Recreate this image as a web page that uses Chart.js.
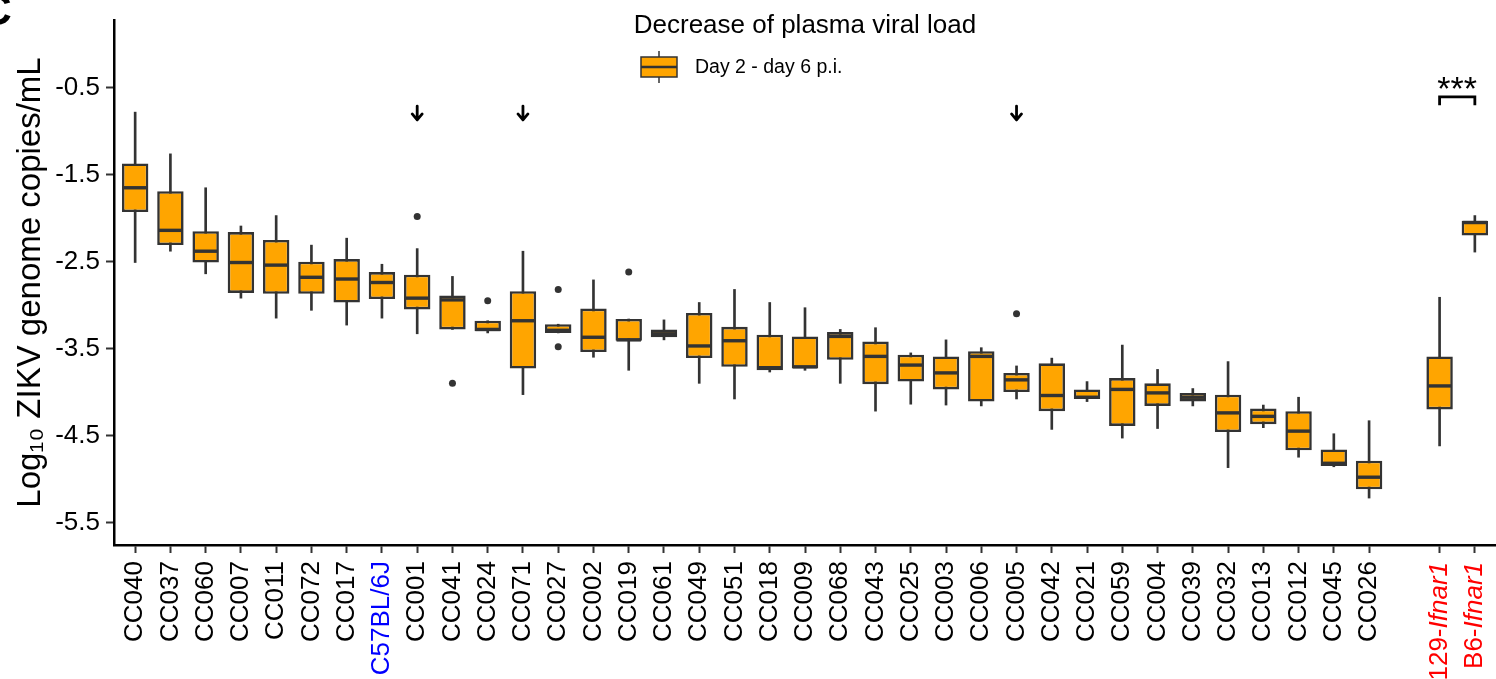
<!DOCTYPE html>
<html>
<head>
<meta charset="utf-8">
<script src="https://cdn.jsdelivr.net/npm/chart.js@4.4.1/dist/chart.umd.min.js"></script>
<style>
  html, body { margin: 0; padding: 0; background: #fff; overflow: hidden; }
  #wrap { width: 1496px; height: 679px; overflow: hidden; }
</style>
</head>
<body>
<div id="wrap"><canvas id="boxChart" width="1500" height="679"></canvas></div>
<script>
// --- Data (log10 ZIKV genome copies/mL, day 2 - day 6 p.i.) ---
const strains = ["CC040", "CC037", "CC060", "CC007", "CC011", "CC072", "CC017", "C57BL/6J", "CC001", "CC041",
  "CC024", "CC071", "CC027", "CC002", "CC019", "CC061", "CC049", "CC051", "CC018", "CC009",
  "CC068", "CC043", "CC025", "CC003", "CC006", "CC005", "CC042", "CC021", "CC059", "CC004",
  "CC039", "CC032", "CC013", "CC012", "CC045", "CC026", "129-Ifnar1", "B6-Ifnar1"];

const wMax = [-0.78, -1.26, -1.65, -2.09, -1.97, -2.31, -2.23, -2.53, -2.35, -2.67,
  -3.18, -2.38, -3.22, -2.71, -3.16, -3.17, -2.97, -2.82, -2.97, -3.03,
  -3.28, -3.26, -3.55, -3.40, -3.49, -3.70, -3.61, -3.88, -3.46, -3.74,
  -3.96, -3.65, -4.15, -4.06, -4.48, -4.33, -2.91, -1.97];
const q3 = [-1.37, -1.69, -2.15, -2.16, -2.25, -2.50, -2.47, -2.62, -2.65, -2.89,
  -3.18, -2.84, -3.22, -3.04, -3.16, -3.28, -3.09, -3.25, -3.34, -3.36,
  -3.31, -3.42, -3.57, -3.59, -3.53, -3.78, -3.67, -3.97, -3.84, -3.90,
  -4.01, -4.03, -4.19, -4.22, -4.66, -4.79, -3.59, -2.03];
const median = [-1.65, -2.14, -2.38, -2.51, -2.54, -2.68, -2.70, -2.74, -2.92, -2.94,
  -3.28, -3.18, -3.29, -3.37, -3.40, -3.33, -3.47, -3.41, -3.72, -3.71,
  -3.36, -3.59, -3.69, -3.78, -3.59, -3.86, -4.04, -4.06, -3.97, -4.01,
  -4.06, -4.24, -4.28, -4.45, -4.82, -4.98, -3.93, -2.05];
const q1 = [-1.93, -2.31, -2.51, -2.86, -2.87, -2.87, -2.97, -2.93, -3.05, -3.28,
  -3.30, -3.73, -3.32, -3.54, -3.41, -3.37, -3.61, -3.71, -3.75, -3.73,
  -3.63, -3.91, -3.88, -3.97, -4.11, -4.00, -4.22, -4.08, -4.39, -4.16,
  -4.11, -4.46, -4.37, -4.67, -4.85, -5.12, -4.20, -2.20];
const wMin = [-2.51, -2.38, -2.64, -2.92, -3.15, -3.06, -3.23, -3.15, -3.33, -3.28,
  -3.32, -4.03, -3.32, -3.60, -3.75, -3.40, -3.90, -4.08, -3.77, -3.75,
  -3.90, -4.22, -4.14, -4.15, -4.16, -4.08, -4.43, -4.11, -4.53, -4.42,
  -4.16, -4.87, -4.41, -4.75, -4.86, -5.22, -4.62, -2.39];

const outlierStrains = ["CC001", "CC041", "CC024", "CC027", "CC027", "CC019", "CC005"];
const outlierValues = [-1.98, -3.90, -2.95, -2.82, -3.48, -2.62, -3.10];

const yTicks = [-5.5, -4.5, -3.5, -2.5, -1.5, -0.5];
const arrowStrains = ["CC001", "CC071", "CC005"];
const sigPair = ["129-Ifnar1", "B6-Ifnar1"];
const sigLabel = "***";

// x slot of each strain: the two Ifnar1 controls sit after an empty slot
const xPos = strains.map((s, i) => (s.endsWith("Ifnar1") ? i + 1 : i));
const posOf = (name) => xPos[strains.indexOf(name)];

const FONT = "'Liberation Sans', Arial, sans-serif";
const ORANGE = "#FFA500";
const DARK = "#333333";

const labelColor = (name) =>
  name === "C57BL/6J" ? "#0000FF" : name.endsWith("Ifnar1") ? "#FF0000" : "#000000";

// --- Annotations: medians, arrows, significance, title, legend ---
const boxExtras = {
  id: "boxExtras",
  afterDatasetsDraw(chart) {
    const { ctx, scales } = chart;
    const y = scales.y;
    const meta = chart.getDatasetMeta(1);
    ctx.save();
    ctx.strokeStyle = DARK;
    ctx.lineWidth = 3.4;
    meta.data.forEach((bar, i) => {
      const { x, width } = bar.getProps(["x", "width"], true);
      const py = y.getPixelForValue(median[i]);
      ctx.beginPath();
      ctx.moveTo(x - width / 2 + 1, py);
      ctx.lineTo(x + width / 2 - 1, py);
      ctx.stroke();
    });
    ctx.restore();
  },
  afterDraw(chart) {
    const { ctx, scales, chartArea } = chart;
    const x = scales.x;
    const y = scales.y;
    ctx.save();

    // arrows above selected strains
    ctx.strokeStyle = "#000";
    ctx.lineWidth = 2.8;
    ctx.lineCap = "round";
    ctx.lineJoin = "round";
    arrowStrains.forEach((s) => {
      const px = x.getPixelForValue(posOf(s));
      const top = y.getPixelForValue(-0.71);
      const tip = y.getPixelForValue(-0.87);
      ctx.beginPath();
      ctx.moveTo(px, top);
      ctx.lineTo(px, tip);
      ctx.moveTo(px - 5, tip - 6);
      ctx.lineTo(px, tip);
      ctx.lineTo(px + 5, tip - 6);
      ctx.stroke();
    });

    // significance bracket
    const bx1 = x.getPixelForValue(posOf(sigPair[0]));
    const bx2 = x.getPixelForValue(posOf(sigPair[1]));
    const by = y.getPixelForValue(-0.605);
    const legY = y.getPixelForValue(-0.70);
    ctx.lineCap = "butt";
    ctx.lineJoin = "miter";
    ctx.beginPath();
    ctx.moveTo(bx1, legY);
    ctx.lineTo(bx1, by);
    ctx.lineTo(bx2, by);
    ctx.lineTo(bx2, legY);
    ctx.stroke();
    ctx.fillStyle = "#000";
    ctx.font = "34px " + FONT;
    ctx.textAlign = "center";
    ctx.textBaseline = "alphabetic";
    ctx.fillText(sigLabel, (bx1 + bx2) / 2, by + 3);

    // title
    ctx.font = "26px " + FONT;
    ctx.fillText("Decrease of plasma viral load", (chartArea.left + chartArea.right) / 2, 33);

    // legend glyph + text
    const lx = 641, lw = 36, ltop = 57, lbot = 77;
    ctx.strokeStyle = DARK;
    ctx.lineWidth = 1.5;
    ctx.beginPath();
    ctx.moveTo(lx + lw / 2, 51);
    ctx.lineTo(lx + lw / 2, 83);
    ctx.stroke();
    ctx.fillStyle = ORANGE;
    ctx.fillRect(lx, ltop, lw, lbot - ltop);
    ctx.lineWidth = 1.5;
    ctx.strokeRect(lx, ltop, lw, lbot - ltop);
    ctx.lineWidth = 2.5;
    ctx.beginPath();
    ctx.moveTo(lx, (ltop + lbot) / 2);
    ctx.lineTo(lx + lw, (ltop + lbot) / 2);
    ctx.stroke();
    ctx.fillStyle = "#000";
    ctx.font = "19.5px " + FONT;
    ctx.textAlign = "left";
    ctx.textBaseline = "middle";
    ctx.fillText("Day 2 - day 6 p.i.", 695, 68);

    // Ifnar1 tick labels: strain prefix upright, gene name italic
    const labelTop = x.top + 8 + 9;
    strains.forEach((s, i) => {
      if (!s.endsWith("Ifnar1")) return;
      const px = x.getPixelForValue(xPos[i]);
      const gene = "Ifnar1";
      const prefix = s.slice(0, s.length - gene.length);
      ctx.save();
      ctx.translate(px, labelTop);
      ctx.rotate(-Math.PI / 2);
      ctx.fillStyle = labelColor(s);
      ctx.textAlign = "right";
      ctx.textBaseline = "middle";
      ctx.font = "italic 26px " + FONT;
      const gw = ctx.measureText(gene).width;
      ctx.fillText(gene, 0, 0);
      ctx.font = "26px " + FONT;
      ctx.fillText(prefix, -gw, 0);
      ctx.restore();
    });

    // panel letter (cut off at the corner)
    ctx.font = "bold 44px " + FONT;
    ctx.textAlign = "left";
    ctx.textBaseline = "alphabetic";
    ctx.fillText("C", -20, 25);
    ctx.restore();
  },
};

// --- Build chart ---
const ctx = document.getElementById("boxChart").getContext("2d");
Chart.defaults.font.family = FONT;

new Chart(ctx, {
  type: "bar",
  data: {
    datasets: [
      {
        type: "scatter",
        label: "outliers",
        data: outlierStrains.map((s, i) => ({ x: posOf(s), y: outlierValues[i] })),
        pointRadius: 3.5,
        pointBackgroundColor: DARK,
        pointBorderWidth: 0,
        order: 1,
      },
      {
        label: "Day 2 - day 6 p.i.",
        data: xPos.map((p, i) => ({ x: p, y: [q1[i], q3[i]] })),
        backgroundColor: ORANGE,
        borderColor: DARK,
        borderWidth: 2.6,
        borderSkipped: false,
        barPercentage: 0.75,
        categoryPercentage: 1,
        grouped: false,
        order: 2,
      },
      {
        label: "whiskers",
        data: xPos.map((p, i) => ({ x: p, y: [wMin[i], wMax[i]] })),
        backgroundColor: DARK,
        borderWidth: 0,
        barThickness: 2,
        grouped: false,
        order: 3,
      },
    ],
  },
  options: {
    responsive: false,
    animation: false,
    devicePixelRatio: 1,
    layout: { padding: { left: 0, top: 20, right: 1, bottom: 0 } },
    plugins: {
      legend: { display: false },
      tooltip: { enabled: false },
    },
    scales: {
      x: {
        type: "linear",
        offset: false,
        min: -0.6,
        max: 38.6,
        afterBuildTicks: (scale) => {
          scale.ticks = xPos.map((v) => ({ value: v }));
        },
        afterFit: (scale) => {
          scale.height = 134;
          scale.paddingLeft = 0;
          scale.paddingRight = 0;
        },
        ticks: {
          autoSkip: false,
          minRotation: 90,
          maxRotation: 90,
          padding: 8,
          font: { size: 26 },
          color: (c) => {
            const i = xPos.indexOf(c.tick.value);
            return i < 0 ? "#000" : labelColor(strains[i]);
          },
          callback: (value) => {
            const i = xPos.indexOf(value);
            if (i < 0 || strains[i].endsWith("Ifnar1")) return "";
            return strains[i];
          },
        },
        grid: { display: true, offset: false, drawOnChartArea: false, tickLength: 8, tickWidth: 2, tickColor: DARK },
        border: { display: true, color: "#000", width: 2.5 },
      },
      y: {
        min: -5.76,
        max: 0.28,
        afterBuildTicks: (scale) => {
          scale.ticks = yTicks.map((v) => ({ value: v }));
        },
        afterFit: (scale) => {
          scale.width = 114;
          scale.paddingTop = 0;
          scale.paddingBottom = 0;
        },
        ticks: {
          padding: 6,
          font: { size: 26 },
          color: "#000",
          callback: (v) => v.toFixed(1),
        },
        grid: { display: true, drawOnChartArea: false, tickLength: 8, tickWidth: 2, tickColor: DARK },
        border: { display: true, color: "#000", width: 2.5 },
        title: {
          display: true,
          text: "Log\u2081\u2080 ZIKV genome copies/mL",
          font: { size: 33 },
          color: "#000",
          padding: { top: 11, bottom: 0 },
        },
      },
    },
  },
  plugins: [boxExtras],
});
</script>
</body>
</html>
